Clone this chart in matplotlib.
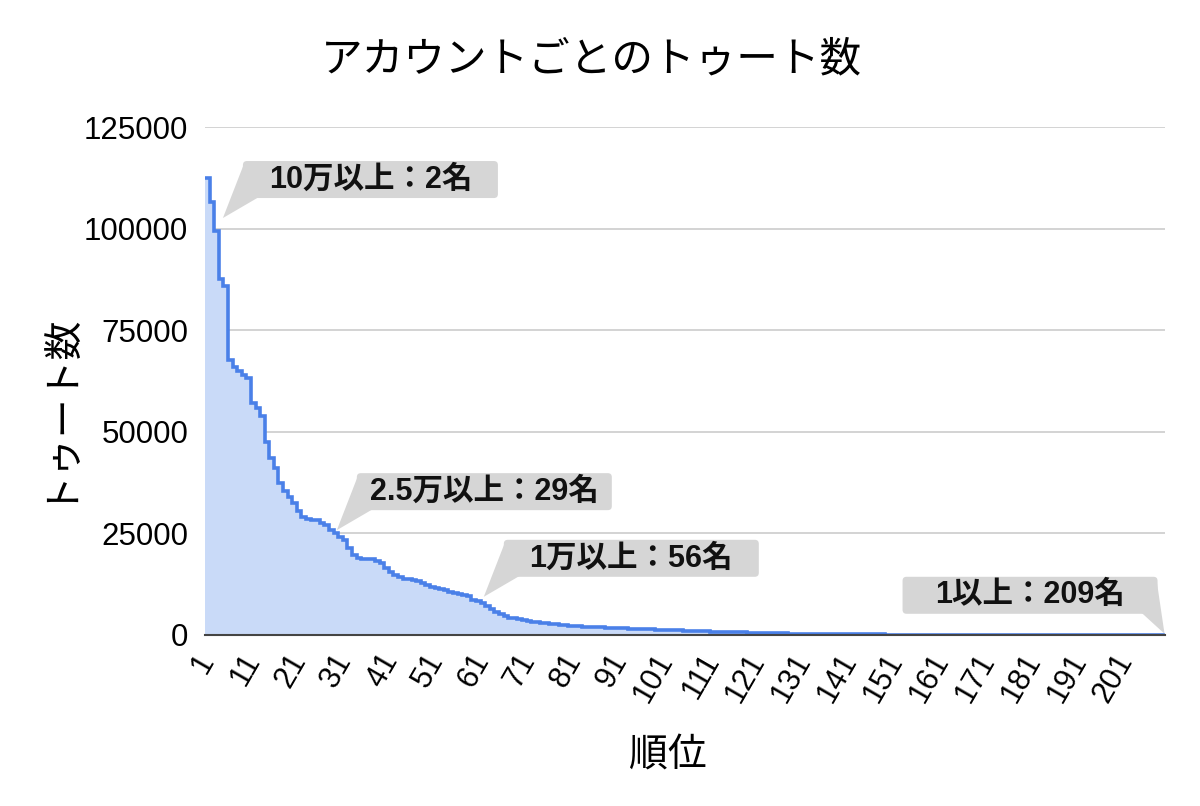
import numpy as np
import matplotlib
matplotlib.use("Agg")
import matplotlib.pyplot as plt
from matplotlib.patches import FancyBboxPatch, Polygon
from matplotlib.transforms import IdentityTransform

# ---- data ----
counts = [
    112500, 106500, 99500, 87500, 85900, 67700, 66000, 65000, 64000, 63300,
    57000, 55800, 54000, 47500, 43500, 41000, 37500, 35500, 34000, 32500,
    30500, 29000, 28500, 28400, 28200, 27600, 27000, 25800, 25100, 24200,
    23400, 21300, 19700, 18900, 18700, 18600, 18600, 18300, 17600, 16400,
    15600, 14800, 14300, 13900, 13700, 13500, 13300, 12800, 12300, 11900,
    11500, 11200, 11000, 10700, 10400, 10100, 9800, 9500, 8600, 8300,
    7800, 7200, 6400, 5700, 5100, 4600, 4300, 4100, 3900, 3700,
    3500, 3300, 3100, 2950, 2850, 2700, 2600, 2500, 2350, 2250,
    2150, 2100, 2050, 2000, 1950, 1900, 1850, 1800, 1750, 1700,
    1650, 1600, 1560, 1520, 1480, 1440, 1400, 1360, 1320, 1280,
    1240, 1200, 1160, 1120, 1080, 1040, 1000, 960, 920, 880,
    850, 820, 790, 760, 730, 700, 670, 640, 610, 580,
    550, 520, 490, 460, 430, 400, 380, 360, 340, 320,
    300, 285, 270, 255, 240, 228, 216, 205, 195, 185,
    176, 168, 160, 152, 145, 138, 132, 126, 120, 115,
    110, 105, 100, 96, 92, 88, 84, 80, 76, 72,
    69, 66, 63, 60, 57, 54, 51, 48, 46, 44,
    42, 40, 38, 36, 34, 32, 30, 28, 27, 26,
    25, 24, 23, 22, 21, 20, 19, 18, 17, 16,
    15, 14, 13, 12, 11, 10, 9, 8, 7, 6,
    5, 5, 4, 4, 3, 3, 2, 2, 1,
]
xtick_ranks = [1, 11, 21, 31, 41, 51, 61, 71, 81, 91, 101, 111, 121, 131, 141, 151, 161, 171, 181, 191, 201]
yticks = [0, 25000, 50000, 75000, 100000, 125000]

ann_texts = ["10万以上：2名", "2.5万以上：29名", "1万以上：56名", "1以上：209名"]
ann_x = [4.4, 29.2, 61.2, 209.4]
ann_y = [102600, 25800, 9400, 300]
ann_side = ["left", "left", "left", "right"]

title = "アカウントごとのトゥート数"
xlabel = "順位"
ylabel = "トゥート数"

# ---- style ----
JP = ["Noto Sans CJK JP", "DejaVu Sans"]
NUM = ["Liberation Sans", "Noto Sans CJK JP", "DejaVu Sans"]
line_color = "#4a80e8"
fill_color = "#c9daf8"
box_color = "#d6d6d6"
BOX_W, BOX_H = 255, 37

fig = plt.figure(figsize=(12, 8.06), dpi=100)
ax = fig.add_axes([205/1200, 1-635/806, 960/1200, 508/806])

n = len(counts)
edges = np.arange(n + 1) + 0.5
vals = np.array(counts, dtype=float)
ax.stairs(vals, edges, fill=True, color=fill_color, linewidth=0, zorder=2)
ax.stairs(vals, edges, baseline=None, color=line_color, linewidth=2.6, zorder=3)

ax.set_xlim(0.5, n + 0.5)
ax.set_ylim(0, 125000)
ax.set_yticks(yticks)
ax.set_yticklabels([str(v) for v in yticks], fontsize=22.5, family=NUM)
ax.set_xticks(xtick_ranks)
ax.set_xticklabels([str(v) for v in xtick_ranks], fontsize=22, family=NUM,
                   rotation=60, ha="right", va="center", rotation_mode="anchor")
ax.tick_params(axis="both", length=0)
ax.tick_params(axis="y", pad=12)
ax.tick_params(axis="x", pad=15)

ax.grid(axis="y", color="#cccccc", linewidth=1.2, zorder=0)
ax.set_axisbelow(True)
for s in ["top", "right", "left"]:
    ax.spines[s].set_visible(False)
ax.spines["bottom"].set_color("#444444")
ax.spines["bottom"].set_linewidth(1.5)
ax.spines["bottom"].set_zorder(4)

ax.set_xlabel(xlabel, fontsize=28, family=JP)
ax.xaxis.set_label_coords((668-205)/960, (635-755)/508)
ax.xaxis.label.set_va("center")
ax.set_ylabel(ylabel, fontsize=28, family=JP)
ax.yaxis.set_label_coords((55-205)/960, (635-405)/508)
ax.yaxis.label.set_va("center")

fig.text(591/1200, 1-60/806, title, fontsize=30, family=JP, ha="center", va="center")

# ---- callout annotations (pixel geometry relative to the data point) ----
H = 806
ident = IdentityTransform()
for t, x, y, side in zip(ann_texts, ann_x, ann_y, ann_side):
    tx, ty = ax.transData.transform((x, y))
    bottom = ty + 20
    if side == "left":
        left = tx + 20
        wedge = [(left + 1, bottom + BOX_H - 3), (tx, ty), (left + 16, bottom + 1)]
    else:
        left = tx - 7 - BOX_W
        right = left + BOX_W
        wedge = [(right - 1, bottom + BOX_H - 3), (tx, ty), (right - 16, bottom + 1)]
    box = FancyBboxPatch((left, bottom), BOX_W, BOX_H,
                         boxstyle="round,pad=0,rounding_size=4",
                         fc=box_color, ec="none", transform=ident, zorder=6)
    fig.add_artist(box)
    fig.add_artist(Polygon(wedge, closed=True, fc=box_color, ec="none",
                           transform=ident, zorder=6))
    fig.text((left + BOX_W / 2) / 1200, (bottom + BOX_H / 2) / H, t,
             ha="center", va="center", fontsize=22, fontweight="bold",
             family=NUM, color="#111111", zorder=7)

fig.savefig("out.png", dpi=100, facecolor="white")
